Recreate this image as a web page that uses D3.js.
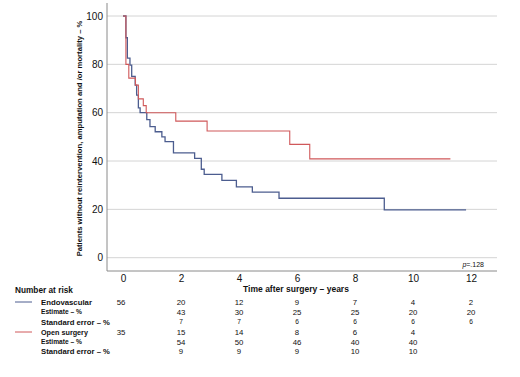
<!DOCTYPE html>
<html><head><meta charset="utf-8">
<script src="https://cdn.jsdelivr.net/npm/d3@7"></script>
<style>body{margin:0;background:#fff}svg{display:block}text{font-family:"Liberation Sans",Arial,sans-serif;fill:#111}</style>
</head><body><svg id="c" width="520" height="377"></svg>
<script>
// Kaplan-Meier step data (time in years, value in %)
const endoTimes = [0, 0.10, 0.15, 0.24, 0.30, 0.42, 0.47, 0.53, 0.59, 0.82, 0.93, 1.11, 1.34, 1.45, 1.74, 2.47, 2.70, 2.80, 3.41, 3.91, 4.46, 5.38, 9.01, 11.83];
const endoValues = [100, 91, 82.6, 79.7, 75, 71.4, 67.3, 62, 60, 57.1, 54.2, 52.1, 50, 48, 43.4, 41.1, 36.6, 34.5, 32, 29.3, 27.1, 24.6, 19.8, 19.8];
const openTimes = [0, 0.10, 0.20, 0.43, 0.53, 0.70, 0.80, 1.82, 2.90, 5.75, 6.44, 11.29];
const openValues = [100, 80, 74.3, 71.4, 65.7, 62.9, 60, 56.5, 52.4, 46.9, 40.9, 40.9];
const yTicks = [0, 20, 40, 60, 80, 100];
const xTicks = [0, 2, 4, 6, 8, 10, 12];
const riskLabels = ["Endovascular", "Estimate – %", "Standard error – %", "Open surgery", "Estimate – %", "Standard error – %"];
const endoAtRisk = ["56", "20", "12", "9", "7", "4", "2"];
const endoEstimate = ["", "43", "30", "25", "25", "20", "20"];
const endoSE = ["", "7", "7", "6", "6", "6", "6"];
const openAtRisk = ["35", "15", "14", "8", "6", "4", ""];
const openEstimate = ["", "54", "50", "46", "40", "40", ""];
const openSE = ["", "9", "9", "9", "10", "10", ""];

const blue = "#4c5d8f", red = "#d0585a";
const svg = d3.select("#c");
const x = d3.scaleLinear().domain([0, 12]).range([123, 471]);
const y = d3.scaleLinear().domain([0, 100]).range([257.7, 16]);
const plotL = 107, plotR = 497, plotB = 271, plotT = 3;

// gridlines
svg.append("g").selectAll("line").data(yTicks).join("line")
  .attr("x1", plotL).attr("x2", plotR).attr("y1", d => y(d)).attr("y2", d => y(d))
  .attr("stroke", "#d4d4d4").attr("stroke-width", 1);

// axes lines
svg.append("line").attr("x1", plotL).attr("x2", plotL).attr("y1", plotT).attr("y2", plotB).attr("stroke", "#8a8a8a");
svg.append("line").attr("x1", plotL).attr("x2", plotR).attr("y1", plotB).attr("y2", plotB).attr("stroke", "#8a8a8a");

// y axis via d3 axis (no ticks)
const yAxis = d3.axisLeft(y).tickValues(yTicks).tickSize(0).tickPadding(4);
const gy = svg.append("g").attr("transform", `translate(${plotL},0)`).call(yAxis);
gy.select(".domain").remove();
gy.selectAll("text").attr("font-size", 10).attr("fill", "#222").attr("font-family", "Liberation Sans, Arial, sans-serif");

// x axis labels
const xAxis = d3.axisBottom(x).tickValues(xTicks).tickSize(0).tickPadding(4);
const gx = svg.append("g").attr("transform", `translate(0,${plotB})`).call(xAxis);
gx.select(".domain").remove();
gx.selectAll("text").attr("font-size", 10).attr("fill", "#222").attr("font-family", "Liberation Sans, Arial, sans-serif");

// curves
const line = d3.line().x(d => x(d[0])).y(d => y(d[1])).curve(d3.curveStepAfter);
svg.append("path").datum(endoTimes.map((t, i) => [t, endoValues[i]]))
  .attr("d", line).attr("fill", "none").attr("stroke", blue).attr("stroke-width", 1.3);
svg.append("path").datum(openTimes.map((t, i) => [t, openValues[i]]))
  .attr("d", line).attr("fill", "none").attr("stroke", red).attr("stroke-width", 1.1);

// p-value
const pt = svg.append("text").attr("x", 484).attr("y", 267).attr("text-anchor", "end").attr("font-size", 7).attr("fill", "#333");
pt.append("tspan").attr("font-style", "italic").text("p");
pt.append("tspan").text("=.128");

// fit helper: scale font size so text reaches a target width
function fit(sel, target) {
  const fs = parseFloat(sel.attr("font-size"));
  const w = sel.node().getComputedTextLength();
  if (w > 0) sel.attr("font-size", (fs * target / w).toFixed(2));
  return sel;
}

// y title
const yt = svg.append("text").attr("transform", "translate(82,138.5) rotate(-90)").attr("text-anchor", "middle")
  .attr("font-size", 7.3).attr("font-weight", "bold").attr("fill", "#222")
  .text("Patients without reintervention, amputation and /or mortality – %");
fit(yt, 236);

// x title
const xt = svg.append("text").attr("x", 296).attr("y", 292).attr("text-anchor", "middle")
  .attr("font-size", 8.3).attr("font-weight", "bold").attr("fill", "#111")
  .text("Time after surgery – years");
fit(xt, 106);

// Number at risk table
const nr = svg.append("text").attr("x", 15).attr("y", 293).attr("font-size", 8.3).attr("font-weight", "bold").text("Number at risk");
fit(nr, 58);
const rowY = [302, 312, 322, 332, 342, 351.5];
const rowW = [51, 41, 69, 47, 41, 69];
riskLabels.forEach((lab, i) => {
  const t = svg.append("text").attr("x", 41).attr("y", rowY[i]).attr("dy", "0.35em")
    .attr("font-size", 7.5).attr("font-weight", "bold").attr("fill", "#222").text(lab);
  fit(t, rowW[i]);
});
svg.append("line").attr("x1", 15).attr("x2", 32).attr("y1", rowY[0]).attr("y2", rowY[0]).attr("stroke", blue).attr("stroke-width", 1);
svg.append("line").attr("x1", 15).attr("x2", 32).attr("y1", rowY[3]).attr("y2", rowY[3]).attr("stroke", red).attr("stroke-width", 1);
const colX = xTicks.map(t => x(t) - (t === 0 ? 2 : 0));
const rows = [endoAtRisk, endoEstimate, endoSE, openAtRisk, openEstimate, openSE];
const numSize = [7.8, 7.8, 6.6, 7.8, 7.8, 7.8];
rows.forEach((r, i) => {
  r.forEach((v, j) => {
    if (!v) return;
    svg.append("text").attr("x", colX[j]).attr("y", rowY[i]).attr("dy", "0.35em").attr("text-anchor", "middle")
      .attr("font-size", numSize[i]).attr("fill", "#222").text(v);
  });
});
</script></body></html>
